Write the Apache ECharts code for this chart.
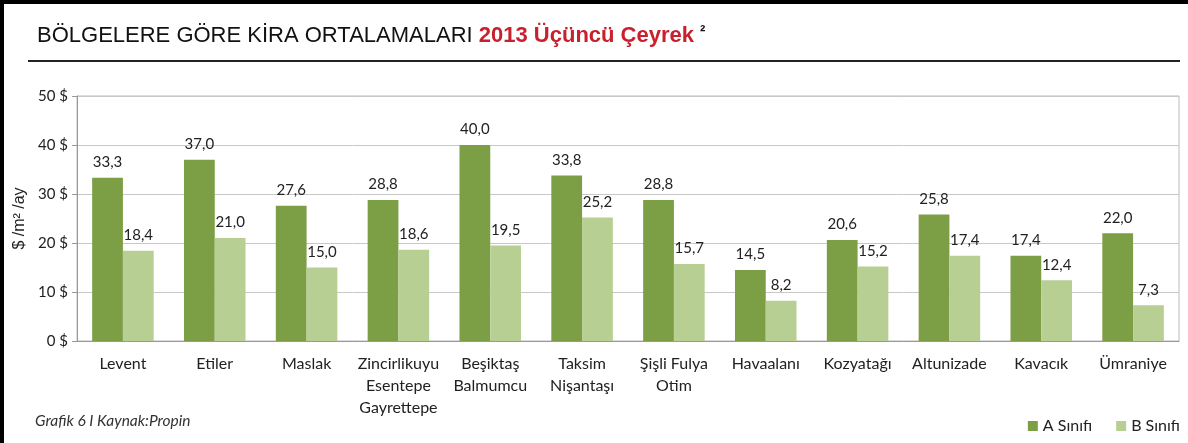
<!DOCTYPE html>
<html>
<head>
<meta charset="utf-8">
<script src="https://cdn.jsdelivr.net/npm/echarts@6/dist/echarts.min.js"></script>
<style>
  html, body { margin: 0; padding: 0; background: #fff; }
  #main { width: 1188px; height: 443px; }
</style>
</head>
<body>
<div id="main"></div>
<script>
// bolgeler
var categories = ['Levent', 'Etiler', 'Maslak', 'Zincirlikuyu\nEsentepe\nGayrettepe', 'Beşiktaş\nBalmumcu',
    'Taksim\nNişantaşı', 'Şişli Fulya\nOtim', 'Havaalanı', 'Kozyatağı', 'Altunizade', 'Kavacık', 'Ümraniye'];
var sinifA = [33.3, 37.0, 27.6, 28.8, 40.0, 33.8, 28.8, 14.5, 20.6, 25.8, 17.4, 22.0];
var sinifB = [18.4, 21.0, 15.0, 18.6, 19.5, 25.2, 15.7, 8.2, 15.2, 17.4, 12.4, 7.3];
var yTicks = [0, 10, 20, 30, 40, 50];

var labelFont = 'Lato, "Open Sans", sans-serif';

var myChart = echarts.init(document.getElementById('main'));

function valLabel(p) {
    return p.value.toFixed(1).replace('.', ',');
}

var option = {
    animation: false,
    backgroundColor: '#fff',
    graphic: [
        // cerceve
        { type: 'rect', left: 0, top: 0, shape: { width: 4, height: 443 }, style: { fill: '#000' } },
        { type: 'rect', left: 0, top: 0, shape: { width: 1188, height: 4 }, style: { fill: '#000' } },
        { type: 'rect', left: 28, top: 60, shape: { width: 1152, height: 2 }, style: { fill: '#222' } },
        {
            type: 'text', left: 37, top: 25,
            style: {
                text: '{a|BÖLGELERE GÖRE KİRA ORTALAMALARI }{b|2013 Üçüncü Çeyrek }{c|²}',
                rich: {
                    a: { fontFamily: '"Liberation Sans", Arial', fontSize: 22, fill: '#111' },
                    b: { fontFamily: '"Liberation Sans", Arial', fontSize: 22, fontWeight: 'bold', fill: '#c8202c' },
                    c: { fontFamily: '"Liberation Sans", Arial', fontSize: 16, fontWeight: 'bold', fill: '#111', verticalAlign: 'top' }
                }
            }
        },
        {
            type: 'text', left: 35, top: 413,
            style: { text: 'Grafik 6 I Kaynak:Propin', fontFamily: labelFont, fontStyle: 'italic', fontSize: 15.5, fill: '#333' }
        }
    ],
    legend: {
        right: 3,
        top: 413,
        itemWidth: 10,
        itemHeight: 10,
        itemGap: 24,
        icon: 'rect',
        textStyle: { fontFamily: labelFont, fontSize: 16, color: '#222' },
        data: ['A Sınıfı', 'B Sınıfı']
    },
    grid: {
        left: 77, right: 9, top: 96, bottom: 102,
        show: true, borderColor: '#bbb', borderWidth: 1
    },
    xAxis: {
        type: 'category',
        data: categories,
        axisLine: { lineStyle: { color: '#999' } },
        axisTick: { show: false },
        axisLabel: {
            interval: 0, margin: 12, lineHeight: 22,
            fontFamily: labelFont, fontSize: 16, color: '#222'
        }
    },
    yAxis: {
        type: 'value',
        min: 0, max: 50, interval: 10,
        name: '$ /m² /ay',
        nameLocation: 'middle',
        nameGap: 44,
        nameTextStyle: { fontFamily: '"Liberation Sans", Arial', fontSize: 16, color: '#222' },
        axisLine: { show: true, lineStyle: { color: '#999' } },
        axisTick: { show: true, length: 5, lineStyle: { color: '#999' } },
        splitLine: { lineStyle: { color: '#c8c8c8' } },
        axisLabel: {
            margin: 9,
            fontFamily: labelFont, fontSize: 15, color: '#222',
            formatter: function (v) { return yTicks.indexOf(v) >= 0 ? v + ' $' : ''; }
        }
    },
    series: [
        {
            name: 'A Sınıfı', type: 'bar', data: sinifA,
            barGap: '0%', barCategoryGap: '33%',
            itemStyle: { color: '#7c9e44' },
            label: { show: true, position: 'top', distance: 8, formatter: valLabel,
                fontFamily: labelFont, fontSize: 15, color: '#222' }
        },
        {
            name: 'B Sınıfı', type: 'bar', data: sinifB,
            itemStyle: { color: '#b7cf93' },
            label: { show: true, position: 'top', distance: 8, formatter: valLabel,
                fontFamily: labelFont, fontSize: 15, color: '#222' }
        }
    ]
};

myChart.setOption(option);
</script>
</body>
</html>
